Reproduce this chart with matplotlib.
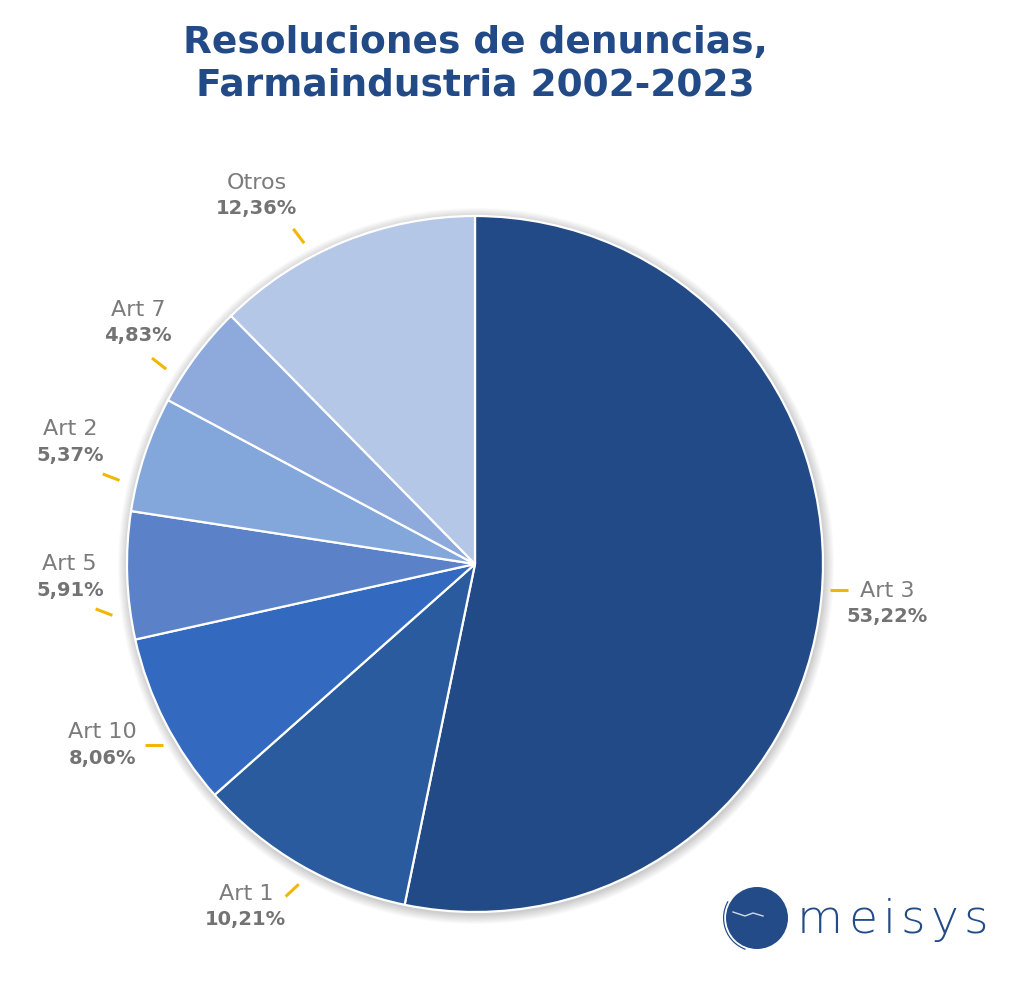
import numpy as np
import matplotlib
matplotlib.use('Agg')
import matplotlib.pyplot as plt
from matplotlib.patches import Circle, Wedge

# data
labels = ['Art 3', 'Art 1', 'Art 10', 'Art 5', 'Art 2', 'Art 7', 'Otros']
shares = [53.22, 10.21, 8.06, 5.91, 5.37, 4.83, 12.36]
colors = ['#224a86', '#2a5b9f', '#336ac0', '#5b81c9', '#83a7da', '#8eaadc', '#b4c7e7']
title_lines = ['Resoluciones de denuncias,', 'Farmaindustria 2002-2023']
logo_text = 'meisys'

W, H = 1024, 994
fig = plt.figure(figsize=(W/100, H/100), dpi=100)
ax = fig.add_axes([0, 0, 1, 1])

cx, cy, r = 475, 994 - 564, 348

# soft shadow
for i in range(10, 0, -1):
	ax.add_patch(Circle((cx + 1, cy - 2), r + i, color='#000000', alpha=0.018, lw=0))

wedges, _ = ax.pie(shares, colors=colors, startangle=90, counterclock=False,
	center=(cx, cy), radius=r, frame=True,
	wedgeprops=dict(edgecolor='white', linewidth=1.6))
ax.set_xlim(0, W)
ax.set_ylim(0, H)
ax.set_aspect('equal')
ax.axis('off')

# label placement tweaks:
# (label angle shift, label dist, stub angle shift, stub dist, stub direction)
place = {
	'Art 3': (0.3, 1.19, 1.7, 1.05, 0),
	'Art 1': (-3.7, 1.185, 0.8, 1.075, -137),
	'Art 10': (-1.1, 1.19, 2.4, 1.06, 180),
	'Art 5': (0, 1.165, 5.5, 1.075, 159),
	'Art 2': (1.7, 1.215, 5, 1.075, 159),
	'Art 7': (1.2, 1.19, 4.4, 1.075, 142),
	'Otros': (8.4, 1.23, 6, 1.07, 127),
}
for w, name, val in zip(wedges, labels, shares):
	mid = (w.theta1 + w.theta2) / 2
	da, dist, ds, sd, sdir = place[name]
	a = np.deg2rad(mid + ds)
	sx, sy = cx + np.cos(a)*r*sd, cy + np.sin(a)*r*sd
	d = np.deg2rad(sdir)
	ax.plot([sx - 9*np.cos(d), sx + 9*np.cos(d)], [sy - 9*np.sin(d), sy + 9*np.sin(d)],
		color='#f2b705', lw=2.2, solid_capstyle='butt')
	a = np.deg2rad(mid + da)
	tx, ty = cx + np.cos(a)*r*dist, cy + np.sin(a)*r*dist
	ax.text(tx, ty + 13, name, ha='center', va='center', fontsize=16,
		color='#7b7b7b', family='DejaVu Sans')
	ax.text(tx, ty - 13, f'{val:.2f}'.replace('.', ',') + '%', ha='center', va='center',
		fontsize=14, color='#737373', fontweight='bold')

ax.text(475, 994 - 53, title_lines[0], ha='center', va='baseline', fontsize=27,
	fontweight='bold', color='#224a86')
ax.text(475, 994 - 96, title_lines[1], ha='center', va='baseline', fontsize=27,
	fontweight='bold', color='#224a86')

# logo
gx, gy = 757, 994 - 918
ax.add_patch(Circle((gx, gy), 31, color='#234b87', lw=0))
ax.add_patch(Wedge((gx, gy), 34, 150, 250, width=1.2, color='#234b87', lw=0))
ax.plot([gx - 24, gx - 12, gx - 4, gx + 6], [gy + 6, gy + 2, gy + 5, gy + 2],
	color='white', lw=1.0, alpha=0.8)
fig.canvas.draw()
rend = fig.canvas.get_renderer()
x = 797
for ch in logo_text:
	t = ax.text(x, 994 - 933, ch, ha='left', va='baseline', fontsize=34,
		color='#234b87', fontweight='light', family='DejaVu Sans')
	bb = t.get_window_extent(rend)
	x += bb.width + 5

fig.savefig('out.png', dpi=100)
